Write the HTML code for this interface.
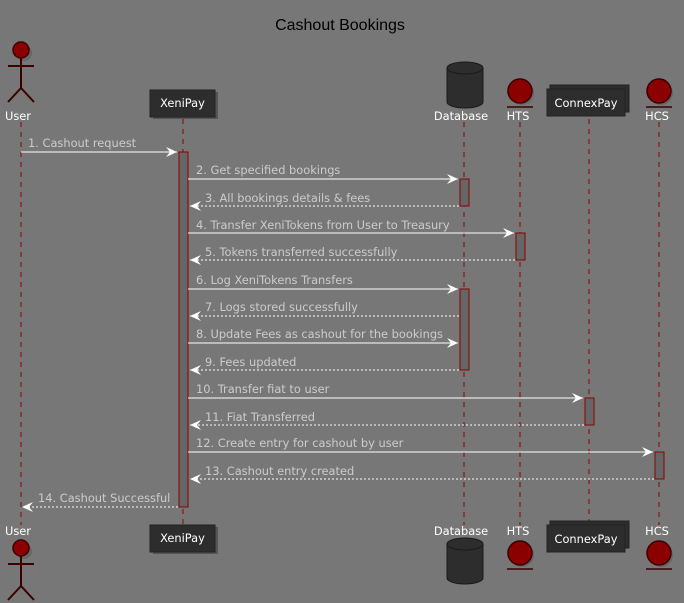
<!DOCTYPE html><html><head><style>body{margin:0;background:#777}svg{display:block}text{font-family:"DejaVu Sans","Liberation Sans",sans-serif}</style></head><body>
<svg width="684" height="603" viewBox="0 0 684 603" xmlns="http://www.w3.org/2000/svg">
<rect width="684" height="603" fill="#777"/>
<text x="340" y="30" font-size="16" text-anchor="middle" fill="#000" style="font-family:'Liberation Sans',sans-serif">Cashout Bookings</text>
<defs>
<g id="actor"><circle cx="3" cy="3" r="8" fill="#666"/><circle cx="0" cy="0" r="8" fill="#8b0000" stroke="#3a0000" stroke-width="1.5"/><path d="M0 8V38M-13 16H13M0 38L-13 52M0 38L13 52" stroke="#3a0000" stroke-width="2" fill="none"/></g>
<g id="ent"><circle cx="2" cy="2" r="12" fill="#666"/><circle cx="0" cy="0" r="12" fill="#8b0000" stroke="#3a0000" stroke-width="1.5"/><line x1="-13" y1="16" x2="13" y2="16" stroke="#3a0000" stroke-width="1.5"/></g>
<g id="db"><path d="M-18 6V40A18 6 0 0 0 18 40V6" fill="#2d2d2d" stroke="#1a1a1a"/><ellipse cx="0" cy="6" rx="18" ry="6" fill="#2d2d2d" stroke="#1a1a1a"/></g>
<marker id="a" markerWidth="12" markerHeight="10" refX="11" refY="5" orient="auto" markerUnits="userSpaceOnUse"><path d="M0 0L11 5L0 10L4 5Z" fill="#fff"/></marker>
</defs>
<g stroke="#8b0000" stroke-dasharray="5,5" stroke-width="1">
<line x1="21" y1="122" x2="21" y2="525"/><line x1="183" y1="119" x2="183" y2="525"/><line x1="464" y1="122" x2="464" y2="525"/><line x1="520" y1="122" x2="520" y2="525"/><line x1="589" y1="119" x2="589" y2="525"/><line x1="659" y1="122" x2="659" y2="525"/>
</g>
<g font-size="11.4" fill="#fff" text-anchor="middle">
<use href="#actor" x="21" y="50"/>
<text x="18" y="120">User</text>
<rect x="153" y="92" width="65" height="27" fill="#555"/><rect x="150" y="90" width="65" height="27" fill="#2d2d2d" stroke="#222"/><text x="182.5" y="107">XeniPay</text>
<use href="#db" x="465" y="62"/><text x="461" y="120">Database</text>
<use href="#ent" x="520" y="91"/><text x="518" y="120">HTS</text>
<rect x="550" y="85" width="79" height="27" fill="#2d2d2d" stroke="#222"/><rect x="547" y="89" width="78" height="27" fill="#2d2d2d" stroke="#222"/><text x="586" y="107">ConnexPay</text>
<use href="#ent" x="659" y="91"/><text x="657" y="120">HCS</text>
<text x="18" y="535">User</text><use href="#actor" x="21" y="548"/>
<rect x="153" y="527" width="65" height="27" fill="#555"/><rect x="150" y="525" width="65" height="27" fill="#2d2d2d" stroke="#222"/><text x="182.5" y="542">XeniPay</text>
<text x="461" y="535">Database</text><use href="#db" x="465" y="538"/>
<text x="518" y="535">HTS</text><use href="#ent" x="520" y="553"/>
<rect x="550" y="521" width="79" height="27" fill="#2d2d2d" stroke="#222"/><rect x="547" y="525" width="78" height="27" fill="#2d2d2d" stroke="#222"/><text x="586" y="543">ConnexPay</text>
<text x="657" y="535">HCS</text><use href="#ent" x="659" y="553"/>
</g>
<g fill="#666" stroke="#8b0000">
<rect x="179" y="152" width="9" height="355"/><rect x="460" y="179" width="9" height="27"/><rect x="516" y="233" width="9" height="27"/><rect x="460" y="289" width="9" height="81"/><rect x="585" y="398" width="9" height="27"/><rect x="655" y="452" width="9" height="27"/>
</g>
<g stroke="#fff" stroke-width="1" marker-end="url(#a)" fill="none">
<line x1="21" y1="152" x2="177" y2="152"/>
<line x1="188" y1="179" x2="458" y2="179"/>
<line x1="459" y1="206" x2="190" y2="206" stroke-dasharray="2,2"/>
<line x1="188" y1="233" x2="514" y2="233"/>
<line x1="515" y1="260" x2="190" y2="260" stroke-dasharray="2,2"/>
<line x1="188" y1="289" x2="458" y2="289"/>
<line x1="459" y1="316" x2="190" y2="316" stroke-dasharray="2,2"/>
<line x1="188" y1="343" x2="458" y2="343"/>
<line x1="459" y1="370" x2="190" y2="370" stroke-dasharray="2,2"/>
<line x1="188" y1="398" x2="583" y2="398"/>
<line x1="584" y1="425" x2="190" y2="425" stroke-dasharray="2,2"/>
<line x1="188" y1="452" x2="653" y2="452"/>
<line x1="654" y1="479" x2="190" y2="479" stroke-dasharray="2,2"/>
<line x1="178" y1="507" x2="22" y2="507" stroke-dasharray="2,2"/>
</g>
<g font-size="11.4" fill="#ccc">
<text x="28" y="147">1. Cashout request</text>
<text x="196" y="174">2. Get specified bookings</text>
<text x="205" y="202">3. All bookings details &amp; fees</text>
<text x="196" y="229">4. Transfer XeniTokens from User to Treasury</text>
<text x="205" y="256">5. Tokens transferred successfully</text>
<text x="196" y="284">6. Log XeniTokens Transfers</text>
<text x="205" y="311">7. Logs stored successfully</text>
<text x="196" y="338">8. Update Fees as cashout for the bookings</text>
<text x="205" y="366">9. Fees updated</text>
<text x="196" y="393">10. Transfer fiat to user</text>
<text x="205" y="421">11. Fiat Transferred</text>
<text x="196" y="447">12. Create entry for cashout by user</text>
<text x="205" y="475">13. Cashout entry created</text>
<text x="38" y="502">14. Cashout Successful</text>
</g>
</svg></body></html>
